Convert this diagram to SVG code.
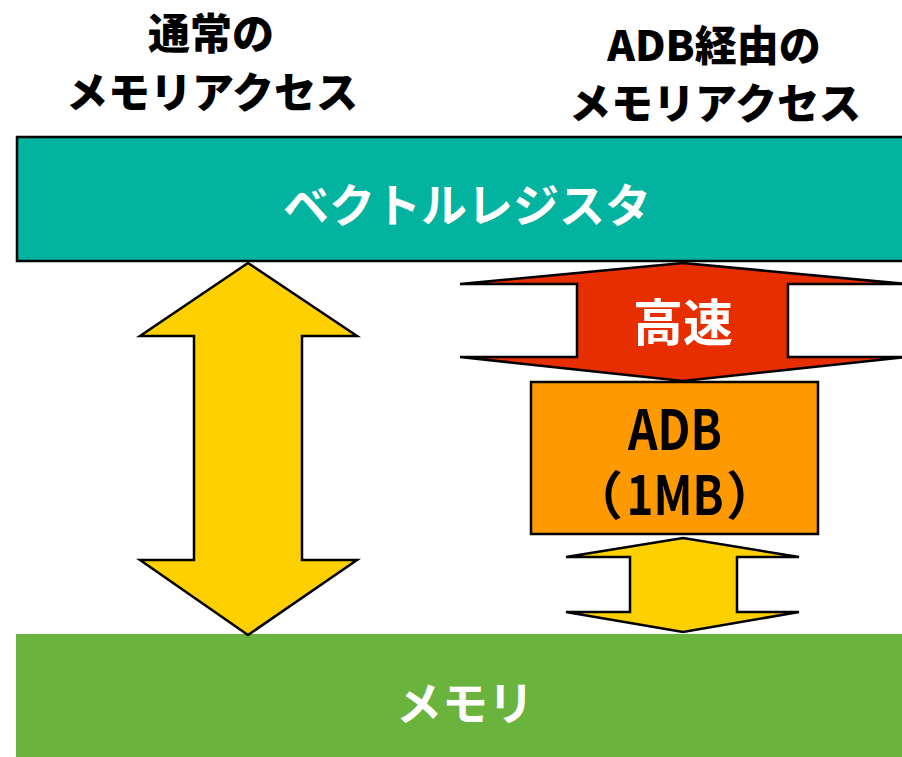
<svg xmlns="http://www.w3.org/2000/svg" width="902" height="757" viewBox="0 0 902 757">
<style>
.jp{font-family:"Noto Sans CJK JP","Noto Sans",sans-serif;font-weight:bold;text-anchor:middle}
.head{font-size:42px;fill:#000;font-weight:900}
.wt{fill:#fff}
.ln{stroke:#000;stroke-width:2.5;stroke-linejoin:miter}
</style>
<rect width="902" height="757" fill="#fff"/>
<g id="heading-left">
<text class="jp head" x="211" y="49">通常の</text>
<text class="jp head" x="212" y="108">メモリアクセス</text>
</g>
<g id="heading-right">
<text class="jp head" x="714" y="61">ADB経由の</text>
<text class="jp head" x="715" y="119">メモリアクセス</text>
</g>
<g id="vector-register">
<rect class="ln" x="17" y="137" width="900" height="124" fill="#02B3A0"/>
<text class="jp wt" x="467" y="222" font-size="46">ベクトルレジスタ</text>
</g>
<g id="memory">
<rect x="16" y="634" width="900" height="130" fill="#6AB43E"/>
<text class="jp wt" x="465" y="720" font-size="46">メモリ</text>
</g>
<g id="connectors">
<polygon id="arrow-normal" class="ln" fill="#FFD000" points="248,263 357,336 302,336 302,560 357,560 248,635 140,560 194,560 194,336 140,336"/>
<polygon id="arrow-fast" class="ln" fill="#E62E00" points="683,263 906,284 788,284 788,357 906,357 683,381 460,357 577,357 577,284 460,284"/>
<polygon id="arrow-adb-mem" class="ln" fill="#FFD000" points="683,538 799,557 737,557 737,612 799,612 683,632 566,612 630,612 630,557 566,557"/>
</g>
<g id="fast-label">
<text class="jp wt" x="683" y="341" font-size="50">高速</text>
</g>
<g id="adb">
<rect class="ln" x="531" y="382" width="287" height="152" fill="#FF9900"/>
<text class="jp" font-size="56"><tspan x="675" y="450" textLength="94" lengthAdjust="spacingAndGlyphs">ADB</tspan><tspan x="623" y="515" font-size="52" text-anchor="end">（</tspan><tspan x="675" y="515" font-size="54" textLength="97" lengthAdjust="spacingAndGlyphs">1MB</tspan><tspan x="726" y="515" font-size="52" text-anchor="start">）</tspan></text>
</g>
</svg>
